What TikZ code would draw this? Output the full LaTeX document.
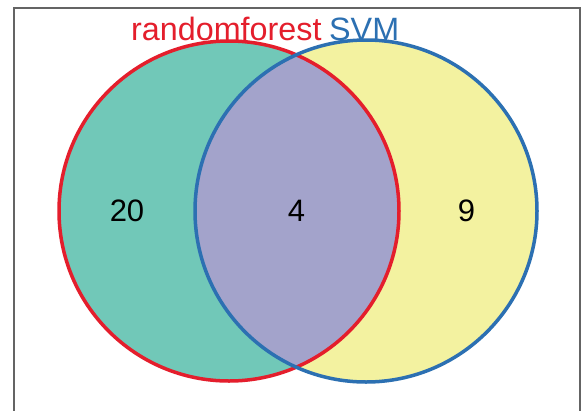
\documentclass[tikz,border=0pt]{standalone}
\usepackage{fontspec}
\setmainfont{Liberation Sans}
\definecolor{teal}{RGB}{113,200,184}
\definecolor{yel}{RGB}{243,242,160}
\definecolor{purp}{RGB}{163,163,203}
\definecolor{rfred}{RGB}{228,30,44}
\definecolor{svmblue}{RGB}{44,112,178}
\definecolor{framegray}{RGB}{100,100,100}
\tikzset{
  lab/.style={inner sep=0pt, font=\fontsize{32.3}{38}\selectfont},
  num/.style={inner sep=0pt, font=\fontsize{31}{36}\selectfont, text=black},
}
\begin{document}
\begin{tikzpicture}[x=1pt,y=-1pt]
\useasboundingbox (0,0) rectangle (581,410);
\fill[white] (0,0) rectangle (581,410);
\draw[framegray, line width=2pt] (13.5,420) -- (13.5,7.5) -- (579.5,7.5) -- (579.5,420);
\coordinate (cL) at (229,211);
\coordinate (cR) at (366,211);
\fill[teal] (cL) circle[radius=170];
\fill[yel] (cR) circle[radius=171];
\begin{scope}
  \clip (cL) circle[radius=170];
  \fill[purp] (cR) circle[radius=171];
\end{scope}
\draw[rfred, line width=3.5pt] (cL) circle[radius=170];
\draw[svmblue, line width=3.5pt] (cR) circle[radius=171];
\node[lab, text=rfred, anchor=base west] (t1) at (131,40) {randomforest};
\node[lab, text=svmblue, anchor=base west] (t2) at (329,40) {SVM};
\node[num] (n1) at (127,211) {20};
\node[num] (n2) at (296.5,211) {4};
\node[num] (n3) at (466.5,211) {9};
\end{tikzpicture}
\end{document}
